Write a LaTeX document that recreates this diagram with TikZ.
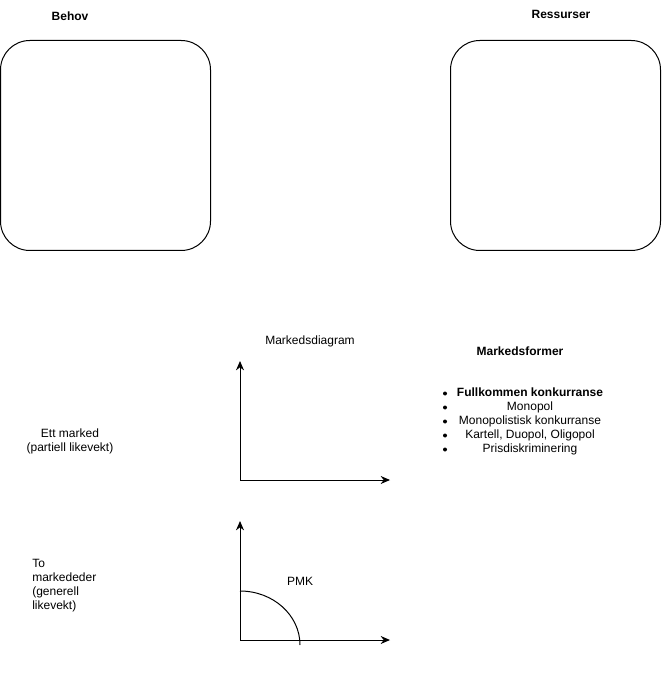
\documentclass[tikz,border=0pt]{standalone}
\usepackage{fontspec}
\setmainfont{Liberation Sans}
\usetikzlibrary{arrows.meta}
\begin{document}
\begin{tikzpicture}[x=0.75pt, y=-0.75pt,
        font=\fontsize{9}{10.5}\selectfont,
        boks/.style={draw, rounded corners=22pt, line width=0.75pt},
        akse/.style={-{Stealth[length=7pt, width=6pt]}, line width=0.75pt},
        tittel/.style={font=\fontsize{9}{10.5}\selectfont\bfseries}]
    \useasboundingbox (0,0) rectangle (661,691);
    % bokser
    \node[tittel] (behov) at (70,16) {Behov};
    \node[tittel] (ressurser) at (561,14) {Ressurser};
    \draw[boks] (0.5,40.5) rectangle (210.5,250.5);
    \draw[boks] (450.5,40.5) rectangle (660.5,250.5);
    % markedsdiagram
    \node (markedsdiagram) at (310,341) {Markedsdiagram};
    \coordinate (o1) at (240,480);
    \coordinate (y1) at (240,361);
    \coordinate (x1) at (390,480);
    \draw[akse] (o1) -- (y1);
    \draw[akse] (o1) -- (x1);
    \node[align=center] (ett) at (70,441) {Ett marked\\(partiell likevekt)};
    % to markeder
    \coordinate (o2) at (240,640);
    \coordinate (y2) at (240,521);
    \coordinate (x2) at (390,640);
    \draw[akse] (o2) -- (y2);
    \draw[akse] (o2) -- (x2);
    \coordinate (pmkstart) at (240,591);
    \draw[line width=0.75pt] (pmkstart) arc[start angle=90, end angle=0, x radius=60, y radius=-54];
    \node (pmk) at (300,581) {PMK};
    \node[align=left, anchor=north west, inner sep=0pt] (to) at (32,559) {To\\markededer\\(generell\\likevekt)};
    % markedsformer
    \node[tittel] (markedsformer) at (520,351) {Markedsformer};
    \node[align=center, inner sep=0pt] (former) at (530,421) {\textbf{Fullkommen konkurranse}\\Monopol\\Monopolistisk konkurranse\\Kartell, Duopol, Oligopol\\Prisdiskriminering};
    \foreach \i in {0,...,4}
        \fill (445,393.5+14*\i) circle[radius=2];
\end{tikzpicture}
\end{document}
